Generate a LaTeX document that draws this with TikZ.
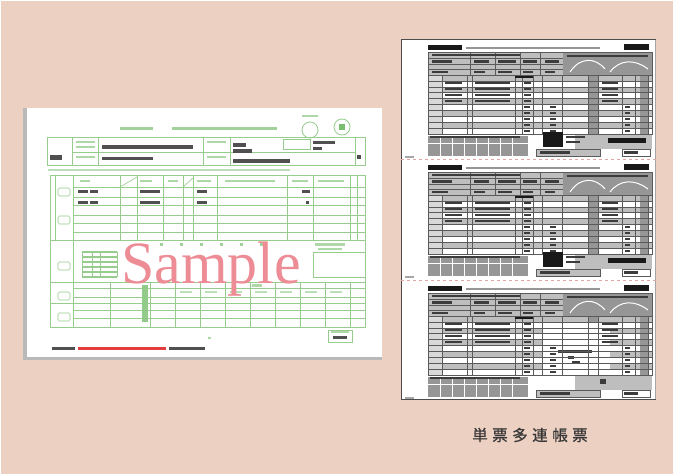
\documentclass[tikz,border=0pt]{standalone}
\usepackage{fontspec}
\setmainfont{Liberation Serif}
\newfontfamily\cjkfont[FakeBold=0.6]{Noto Sans CJK JP}
\definecolor{bgc}{RGB}{236,208,194}
\definecolor{fgreen}{RGB}{150,205,140}
\definecolor{fgtext}{RGB}{120,190,110}
\definecolor{fdk}{RGB}{80,80,80}
\definecolor{sred}{RGB}{238,140,150}
\definecolor{redtxt}{RGB}{230,60,60}
\definecolor{gline}{RGB}{90,90,90}
\definecolor{glight}{RGB}{190,190,190}
\definecolor{gmid}{RGB}{150,150,150}
\definecolor{gdark}{RGB}{60,60,60}
\definecolor{gblack}{RGB}{25,25,25}
\definecolor{sepc}{RGB}{225,165,165}
\definecolor{lblc}{RGB}{55,55,55}
\tikzset{
  gl/.style={draw=fgreen, line width=0.6pt},
  fl/.style={draw=gline, line width=0.5pt},
}
\begin{document}
\begin{tikzpicture}[x=1pt,y=-1pt]
\useasboundingbox (0,0) rectangle (673,474);
\fill[bgc] (0,0) rectangle (673,474);
\fill[white] (0,0) rectangle (1,474);
\fill[white] (0,0) rectangle (673,1);

% ---------------- left form ----------------
\fill[gray!55] (23,108) rectangle (27,360);
\fill[gray!55] (23,357) rectangle (382,360);
\fill[white] (27,108) rectangle (382,357);

% title line
\fill[fgtext!70] (120,127) rectangle (153,130);
\fill[fgtext!70] (172,127) rectangle (277,130);
\draw[fgreen, line width=0.8pt] (310,130) circle (8pt);
\fill[fgtext!60] (302,115) rectangle (318,117);
\draw[fgreen, line width=0.8pt] (342,127) circle (8pt);
\fill[fgtext] (339,124) rectangle (345,130);

% header box
\draw[gl] (47,137) rectangle (365,165);
\foreach \x in {72,98,203,230,355} \draw[gl] (\x,137)--(\x,165);
\draw[gl] (72,152)--(355,152);
\draw[gl] (283,139) rectangle (310,149);
\fill[fgtext!60] (76,141) rectangle (95,143);
\fill[fgtext!60] (76,146) rectangle (95,148);
\fill[fgtext!60] (76,156) rectangle (95,158);
\fill[fgtext!60] (207,141) rectangle (226,143);
\fill[fgtext!60] (207,156) rectangle (226,158);
\fill[fdk] (102,145) rectangle (193,149);
\fill[fdk] (102,157) rectangle (153,160);
\fill[fdk] (233,143) rectangle (246,147);
\fill[fdk] (233,149) rectangle (252,153);
\fill[fdk] (233,159) rectangle (290,163);
\fill[fdk] (50,155) rectangle (62,160);
\fill[fdk] (313,141) rectangle (335,144);
\fill[fdk] (313,147) rectangle (322,150);
\fill[fdk] (357,155) rectangle (361,159);
\fill[fgtext!50] (48,169) rectangle (290,171);

% main table
\draw[gl] (50,175) rectangle (365,327);
\foreach \y in {187,197,205,215,223,232} \draw[gl] (73,\y)--(365,\y);
\foreach \y in {240,282,303} \draw[gl] (50,\y)--(365,\y);
\foreach \x in {55,73,120,137,163,183,193,217,287,313,350,357} \draw[gl] (\x,175)--(\x,240);
\draw[gl] (120,187)--(137,177);
\draw[gl] (183,187)--(193,178);
\foreach \x/\w in {80/10,140/12,168/10,197/14,225/50,292/16,318/26} \fill[fgtext!60] (\x,180) rectangle (\x+\w,182);
\foreach \y in {190,201} {
  \fill[fdk] (78,\y) rectangle (88,\y+3);
  \fill[fdk] (90,\y) rectangle (98,\y+3);
  \fill[fdk] (140,\y) rectangle (160,\y+3);
  \fill[fdk] (197,\y) rectangle (207,\y+3);
}
\fill[fdk] (302,190) rectangle (310,193);
\fill[fdk] (306,201) rectangle (309,204);
\foreach \y in {188,216,262,292,313} \draw[gl, rounded corners=1.5pt] (58,\y) rectangle (70,\y+8);

% middle section
\foreach \x in {160,180,200,220,240,260} \fill[fgtext!70] (\x,243) rectangle (\x+3,246);
\fill[fgtext!60] (315,243) rectangle (345,246);
\fill[fgtext!60] (318,248) rectangle (342,250);
\draw[gl] (313,252) rectangle (365,277);
\draw[gl] (73,240)--(73,282);
\foreach \y in {252,257,262,267,272,277} \draw[fgreen, line width=1.2pt] (82,\y)--(117,\y);
\foreach \x in {82,92,100,117} \draw[gl] (\x,252)--(\x,277);

% lower rows
\foreach \y in {288,297,310,318} \draw[gl] (73,\y)--(365,\y);
\foreach \x in {73,110,150,175,200,225,250,275,300,325,350} \draw[gl] (\x,282)--(\x,327);
\fill[fgtext!80] (142,285) rectangle (148,322);
\fill[fgtext!60] (252,284) rectangle (262,287);
\foreach \x in {180,205,230,255,280,305,330} \fill[fgtext!50] (\x,291) rectangle (\x+12,293);

% bottom
\draw[gl] (328,330) rectangle (352,342);
\fill[fgtext!60] (331,331) rectangle (349,333);
\fill[fdk] (333,336) rectangle (347,339);
\fill[fdk] (52,347) rectangle (75,350);
\fill[redtxt] (78,347) rectangle (166,350);
\fill[fdk] (169,347) rectangle (205,350);
\fill[fgtext!60] (208,337) rectangle (211,339);

\node[text=sred, font=\fontsize{60}{60}\selectfont, anchor=base, inner sep=0pt] (smp) at (211,283) {Sample};

% ---------------- right form ----------------
\fill[white] (401,39) rectangle (656,400);
\draw[gray!70, line width=1.2pt] (401.6,39.6) rectangle (655.4,399.4);
\draw[gray!60!black, line width=1pt] (401,39.5)--(656,39.5);
\draw[gray!60!black, line width=1.4pt] (401,399.3)--(656,399.3);
\draw[gray!60!black, line width=1.2pt] (401.6,39)--(401.6,400);

\foreach \off/\v in {39/0,159/1,280/2}{
 \begin{scope}[shift={(0,\off)}]
  % title
  \fill[gblack] (428,6) rectangle (462,11);
  \fill[gmid] (466,8) rectangle (600,10);
  \fill[gblack] (624,5) rectangle (649,11);
  % header
  \fill[glight] (428,13) rectangle (563,36);
  \fill[gmid] (563,13) rectangle (652,36);
  \foreach \y in {19,25,30} \draw[fl] (428,\y)--(563,\y);
  \foreach \x in {470,495,520,540} \draw[fl] (\x,13)--(\x,36);
  \foreach \x/\w in {432/20,474/15,498/18,523/14,545/14} {
    \fill[gdark] (\x,21) rectangle (\x+\w,23.5);
    \fill[gdark] (\x,32) rectangle (\x+\w-4,34);
  }
  \fill[gdark] (432,15) rectangle (520,17);
  \draw[white, line width=1pt] (570,33) .. controls (580,18) and (595,18) .. (605,30);
  \draw[white, line width=1pt] (610,33) .. controls (620,20) and (635,20) .. (648,30);
  \fill[gdark] (567,16) rectangle (648,18);
  % main table
  \foreach \k in {0,2,4,6,8} \fill[glight] (428,36+\k*5.9) rectangle (652,36+\k*5.9+5.9);
  \fill[glight!60] (428,36) rectangle (442,95);
  \fill[gmid] (588,36) rectangle (598,95);
  \fill[gmid] (640,36) rectangle (648,95);
  \ifnum\v=2
    \fill[white] (542,42) rectangle (610,95);
    \fill[gdark] (558,70) rectangle (592,72.5);
    \fill[gdark] (568,76) rectangle (574,79);
    \fill[gdark] (572,81) rectangle (580,84);
  \fi
  \foreach \k in {0,...,10} \draw[fl] (428,36+\k*5.9)--(652,36+\k*5.9);
  \foreach \x in {442,467,472,515,522,533,542,562,588,598,622,635,648} \draw[fl] (\x,36)--(\x,95);
  \draw[fl] (428,13) rectangle (652,95);
  \foreach \k in {1,2,3,4} {
    \fill[gdark] (445,37.5+\k*5.9) rectangle (462,39.5+\k*5.9);
    \fill[gdark] (475,37.5+\k*5.9) rectangle (510,39.5+\k*5.9);
    \fill[gdark] (524,37.5+\k*5.9) rectangle (531,39.5+\k*5.9);
    \fill[gdark] (602,37.5+\k*5.9) rectangle (618,39.5+\k*5.9);
  }
  \fill[gblack] (515,37) rectangle (533,39);
  \foreach \k in {5,...,9} {
    \fill[gdark] (524,37.5+\k*5.9) rectangle (530,39.5+\k*5.9);
    \fill[gdark] (550,37.5+\k*5.9) rectangle (556,39.5+\k*5.9);
    \fill[gdark] (625,37.5+\k*5.9) rectangle (630,39.5+\k*5.9);
  }
  % bottom
  \fill[gmid] (428,97) rectangle (528,117);
  \foreach \x in {440,452,464,476,488,500,512} \draw[white, line width=0.8pt] (\x,97)--(\x,117);
  \draw[white, line width=0.8pt] (428,104)--(528,104);
  \fill[gdark] (430,97) rectangle (520,99);
  \fill[glight] (575,96) rectangle (652,110);
  \ifnum\v<2
    \fill[gblack] (543,93) rectangle (563,108);
    \fill[gblack] (608,99) rectangle (646,104);
    \fill[gdark] (566,97) rectangle (585,99);
    \fill[gdark] (566,102) rectangle (580,104);
  \else
    \fill[gdark] (600,99) rectangle (606,104);
  \fi
  \draw[fl, fill=glight] (536,110) rectangle (600,117);
  \fill[gdark] (540,112) rectangle (570,114.5);
  \draw[fl, fill=white] (622,110) rectangle (650,117);
  \fill[gdark] (624,112) rectangle (638,115);
  \fill[gray!70] (405,117) rectangle (414,119);
 \end{scope}
}
\draw[sepc, dashed, line width=0.8pt] (401,159)--(656,159);
\draw[sepc, dashed, line width=0.8pt] (401,280)--(656,280);

% label
\node[text=lblc, font=\cjkfont\fontsize{15.5}{15.5}\selectfont, inner sep=0pt] (lbl) at (530,435)
  {単\hspace{4.5pt}票\hspace{4.5pt}多\hspace{4.5pt}連\hspace{4.5pt}帳\hspace{4.5pt}票};
\end{tikzpicture}
\end{document}
